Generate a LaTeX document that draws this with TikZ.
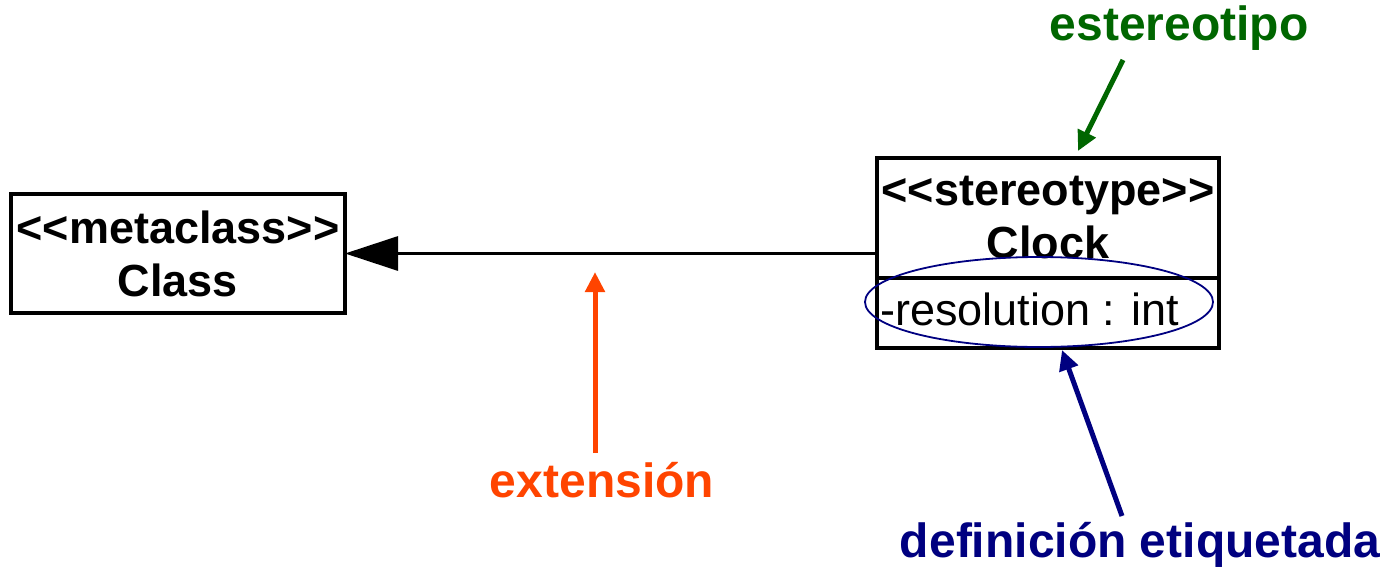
\documentclass[tikz,border=0pt]{standalone}
\usepackage{fontspec}
\setmainfont{Liberation Sans}
\usetikzlibrary{arrows.meta,shapes.geometric}
\definecolor{extorange}{RGB}{255,68,0}
\definecolor{stgreen}{RGB}{0,102,0}
\definecolor{tagnavy}{RGB}{0,0,128}
\tikzset{
  umlbox/.style={draw=black, line width=4pt, rectangle, inner sep=0pt, outer sep=0pt,
    align=center, font=\fontsize{45}{53}\selectfont\bfseries},
  lbl/.style={anchor=base, font=\fontsize{48}{56}\selectfont\bfseries},
  callout/.style={line width=5pt, -{Triangle[length=20pt,width=19pt]}},
}
\begin{document}
\begin{tikzpicture}[x=1pt,y=-1pt]
\useasboundingbox (0,0) rectangle (1389,567);
% class boxes
\node[umlbox, minimum width=334pt, minimum height=119pt] (class) at (178,253.5)
  {<{}<metaclass>{}>\\Class};
\node[umlbox, minimum width=342pt, minimum height=120pt] (clockhead) at (1048,218)
  {<{}<stereotype>{}>\\Clock};
\node[umlbox, minimum width=342pt, minimum height=70pt, anchor=north] (clockattr)
  at (clockhead.south) {};
\node[anchor=base west, inner sep=0pt, font=\fontsize{45}{53}\selectfont] (attrtext)
  at (880,325) {-resolution : int};
% tagged definition ellipse
\node[draw=tagnavy, line width=1.8pt, ellipse, minimum width=348pt, minimum height=90pt,
  inner sep=0pt] (tag) at (1039,302) {};
% extension connector
\draw[line width=3pt, -{Triangle[length=53pt,width=34pt]}]
  (class.east -| clockhead.west) -- (class.east);
% labels
\node[lbl, text=stgreen] (lster) at (1179,41) {estereotipo};
\node[lbl, text=extorange] (lext) at (602,497) {extensión};
\node[lbl, text=tagnavy] (ldef) at (1140,557) {definición etiquetada};
% callout arrows
\coordinate (gs) at (1123,60);
\coordinate (gt) at (1078,151);
\coordinate (os) at (595,453);
\coordinate (ot) at (595,272);
\coordinate (bs) at (1122,516);
\coordinate (bt) at (1062,350);
\draw[callout, draw=stgreen, fill=stgreen] (gs) -- (gt);
\draw[callout, draw=extorange, fill=extorange] (os) -- (ot);
\draw[callout, draw=tagnavy, fill=tagnavy] (bs) -- (bt);
\end{tikzpicture}
\end{document}
